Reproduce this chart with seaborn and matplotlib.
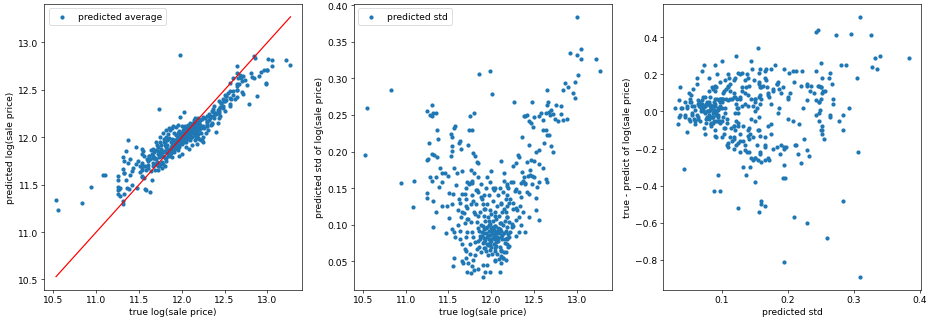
import matplotlib
matplotlib.use("Agg")
import matplotlib.pyplot as plt
import seaborn as sns
import numpy as np

# ---- data (true value, predicted mean, predicted std) ----
true_logprice = [
    10.53, 10.55, 10.83, 10.94, 11.08, 11.10,
    11.25, 11.25, 11.25, 11.25, 11.26, 11.27, 11.28, 11.28, 11.31, 11.31, 11.31, 11.31, 11.32, 11.32,
    11.32, 11.33, 11.35, 11.35, 11.36, 11.37, 11.37, 11.38, 11.39, 11.40, 11.42, 11.42, 11.43,
    11.46, 11.47, 11.48, 11.49, 11.51, 11.51, 11.53, 11.53, 11.54, 11.54, 11.54, 11.54, 11.54, 11.55,
    11.55, 11.56, 11.56, 11.57, 11.57, 11.58, 11.58, 11.59, 11.60, 11.61, 11.61, 11.62, 11.63, 11.63,
    11.64, 11.64, 11.65, 11.65, 11.66, 11.66, 11.66, 11.67,
    11.74, 11.75, 11.80, 11.78, 11.73, 11.79, 11.81, 11.83, 11.84, 11.76,
    11.72, 11.75, 11.77, 11.69, 11.71, 11.72, 11.77, 11.79, 11.68, 11.73,
    11.69, 11.76, 11.72, 11.77, 11.79, 11.75, 11.69, 11.71, 11.75, 11.79,
    11.73, 11.80, 11.76, 11.72, 11.70, 11.81, 11.82, 11.83, 11.81, 11.83,
    11.81, 11.84, 11.83, 11.80, 11.86, 11.98,
    11.86, 11.86, 11.87, 11.87, 11.88, 11.88, 11.88, 11.89, 11.89, 11.90,
    11.90, 11.90, 11.90, 11.91, 11.91, 11.91, 11.92, 11.92, 11.92, 11.93,
    11.93, 11.93, 11.94, 11.94, 11.94, 11.95, 11.95, 11.95, 11.96, 11.96,
    11.96, 11.97, 11.97, 11.97, 11.98, 11.98, 11.98, 11.99, 11.99, 11.99,
    12.00, 12.00, 12.00, 12.00, 12.01, 12.01, 12.01, 12.02, 12.02, 12.02,
    12.03, 12.03, 12.03, 12.04, 12.04, 12.04, 12.05, 12.05, 12.05, 12.06,
    12.06, 12.06, 12.07, 12.07, 12.07, 12.08, 12.08, 12.08, 12.09, 12.09,
    12.09, 12.10, 12.10, 12.10, 12.11, 12.11, 12.11, 12.12, 12.12, 12.12,
    12.13, 12.13, 12.14, 12.14, 12.14, 12.15, 12.15, 12.15, 12.16, 12.16,
    12.17, 12.17, 12.18, 12.18, 12.18, 12.19, 12.19, 12.20, 12.20,
    12.10, 12.05, 12.12, 12.15, 12.20, 12.18, 12.22, 12.24, 12.25, 12.19, 12.08, 12.00, 11.97, 12.40,
    12.27, 12.36, 12.44, 12.46, 12.31, 12.33, 12.29, 12.25, 12.19, 12.23,
    12.25, 12.29, 12.32, 12.35, 12.37, 12.40, 12.43, 12.45, 12.44, 12.42,
    12.25, 12.21, 12.17, 12.29, 12.34, 12.37, 12.21, 12.29, 12.24, 12.33,
    12.35, 12.39, 12.44, 12.19, 12.29, 12.21, 12.17, 12.17, 12.14, 12.21,
    12.46, 12.40, 12.42, 12.38, 12.44, 12.48,
    12.49, 12.50, 12.56, 12.58, 12.60, 12.64, 12.65, 12.66, 12.65, 12.67,
    12.69, 12.70, 12.72, 12.74, 12.76, 12.78, 12.60, 12.65, 12.68, 12.70,
    12.72, 12.64, 12.62, 12.56, 12.52, 12.50, 12.56, 12.60, 12.54, 12.56,
    12.48, 12.64, 12.65, 12.48, 12.52, 12.52, 12.56,
    13.00, 12.92, 13.05, 13.00, 13.05, 13.01, 13.22, 13.27, 12.98, 12.96,
    12.98, 12.84, 12.86, 12.90, 12.84, 12.88, 12.81, 12.82,
    11.62, 11.66, 11.70, 11.74, 11.78, 11.82, 11.85, 11.88, 11.90, 11.93,
    11.76, 11.80, 11.84, 11.70, 11.66, 11.95, 11.98, 12.02, 11.72, 11.85,
    12.05, 12.12, 12.18, 12.22, 12.28, 12.30, 12.35, 12.38, 12.32, 12.26,
    12.15, 12.45, 12.50, 12.42, 12.36,
    11.84, 11.87, 11.89, 11.92, 11.94, 11.96, 11.97, 12.00, 12.01, 12.03,
    12.04, 12.06, 12.08, 12.09, 12.10, 12.13, 12.16, 12.05, 11.99, 11.93,
    11.91, 11.95, 12.02, 12.07, 12.11,
    11.85, 11.95, 12.05, 11.78, 12.12, 11.70,
]

pred_avg = [
    11.34, 11.23, 11.31, 11.48, 11.60, 11.60,
    11.40, 11.48, 11.55, 11.59, 11.44, 11.45, 11.38, 11.47, 11.33, 11.30, 11.67, 11.79, 11.40, 11.62,
    11.75, 11.62, 11.86, 11.55, 11.46, 11.97, 11.73, 11.45, 11.77, 11.60, 11.64, 11.50, 11.68,
    11.72, 11.90, 11.46, 11.75, 11.63, 11.70, 11.68, 11.73, 11.59, 11.82, 11.58, 11.66, 11.88, 11.70,
    11.86, 11.80, 11.57, 11.70, 11.45, 11.44, 11.66, 11.77, 11.68, 11.75, 11.71, 11.80, 11.42, 11.77,
    11.87, 11.64, 11.55, 11.82, 11.73, 11.78, 11.70, 11.78,
    11.95, 11.80, 11.92, 11.72, 12.30, 11.98, 12.00, 11.84, 12.03, 11.72,
    11.85, 11.85, 11.80, 11.78, 11.92, 11.70, 11.68, 11.95, 11.84, 11.79,
    11.72, 11.88, 11.82, 11.74, 11.86, 11.72, 11.66, 11.74, 11.80, 11.84,
    11.70, 11.78, 11.83, 11.66, 11.77, 11.90, 11.75, 11.92, 11.85, 11.88,
    11.78, 11.82, 11.97, 11.70, 12.08, 12.87,
    11.88, 11.80, 11.95, 11.83, 11.98, 11.86, 11.90, 11.92, 11.79, 11.87,
    11.95, 11.93, 11.88, 11.84, 11.91, 12.04, 11.90, 11.97, 11.88, 11.93,
    12.02, 11.95, 11.89, 11.94, 11.98, 11.93, 12.01, 11.87, 11.96, 11.90,
    12.00, 11.97, 12.07, 11.92, 12.03, 11.95, 11.99, 12.00, 11.94, 12.02,
    12.05, 12.12, 11.97, 11.93, 12.01, 12.06, 12.08, 11.99, 12.10, 12.03,
    11.96, 12.04, 12.00, 12.07, 12.00, 12.12, 12.02, 12.09, 11.98, 12.05,
    12.10, 11.99, 12.04, 12.13, 12.06, 12.02, 12.11, 12.05, 12.08, 11.98,
    12.04, 12.12, 12.06, 12.15, 12.04, 12.09, 12.00, 12.10, 12.13, 12.07,
    12.05, 12.15, 12.09, 12.18, 12.11, 12.06, 12.12, 12.20, 12.08, 12.14,
    12.04, 12.13, 12.10, 12.16, 12.05, 12.12, 12.20, 12.08, 12.15,
    11.97, 11.95, 12.00, 11.97, 11.98, 11.93, 11.97, 11.97, 11.95, 11.99, 11.88, 11.82, 11.80, 12.06,
    12.20, 12.22, 12.28, 12.36, 12.08, 12.20, 12.14, 12.00, 12.03, 12.10,
    12.21, 12.12, 12.25, 12.14, 12.30, 12.25, 12.20, 12.32, 12.30, 12.15,
    12.12, 12.18, 12.00, 12.22, 12.13, 12.27, 12.10, 12.17, 12.19, 12.22,
    12.28, 12.25, 12.26, 12.08, 12.16, 12.13, 12.02, 12.10, 12.05, 12.18,
    12.36, 12.26, 12.29, 12.33, 12.38, 12.33,
    12.38, 12.45, 12.57, 12.40, 12.62, 12.54, 12.75, 12.62, 12.68, 12.56,
    12.62, 12.59, 12.46, 12.60, 12.55, 12.35, 12.45, 12.43, 12.66, 12.48,
    12.65, 12.50, 12.40, 12.35, 12.44, 12.38, 12.41, 12.49, 12.47, 12.33,
    12.31, 12.50, 12.56, 12.40, 12.39, 12.44, 12.49,
    12.71, 12.69, 12.75, 12.71, 12.81, 12.83, 12.81, 12.76, 12.56, 12.71,
    12.57, 12.86, 12.84, 12.65, 12.62, 12.44, 12.68, 12.64,
    11.80, 11.88, 11.95, 12.00, 12.05, 12.08, 12.10, 12.10, 12.12, 12.11,
    11.92, 11.95, 11.98, 11.87, 11.80, 12.13, 12.21, 12.27, 11.90, 11.99,
    11.90, 11.92, 12.00, 12.05, 12.05, 12.12, 12.15, 12.20, 12.18, 12.10,
    12.02, 12.22, 12.28, 12.26, 12.28,
    11.80, 11.90, 11.85, 11.95, 11.93, 12.02, 11.90, 12.00, 12.06, 12.00,
    12.10, 12.02, 12.07, 12.12, 12.00, 12.10, 12.12, 12.05, 11.97, 11.89,
    11.97, 12.04, 11.95, 12.12, 12.05,
    11.83, 11.90, 12.00, 11.80, 12.10, 11.72,
]

pred_std = [
    0.195, 0.260, 0.284, 0.157, 0.124, 0.160,
    0.255, 0.188, 0.143, 0.136, 0.190, 0.211, 0.250, 0.165, 0.264, 0.249, 0.196, 0.160, 0.252, 0.132,
    0.097, 0.195, 0.165, 0.118, 0.252, 0.229, 0.193, 0.217, 0.151, 0.178, 0.158, 0.125, 0.170,
    0.171, 0.088, 0.125, 0.166, 0.143, 0.109, 0.224, 0.194, 0.208, 0.220, 0.201, 0.128, 0.094, 0.142,
    0.043, 0.232, 0.055, 0.090, 0.178, 0.235, 0.083, 0.154, 0.170, 0.100, 0.120, 0.212, 0.130, 0.092,
    0.215, 0.080, 0.204, 0.110, 0.174, 0.074, 0.050, 0.047,
    0.229, 0.248, 0.252, 0.229, 0.209, 0.198, 0.194, 0.185, 0.184, 0.175,
    0.158, 0.157, 0.157, 0.142, 0.135, 0.123, 0.140, 0.132, 0.116, 0.108,
    0.102, 0.104, 0.090, 0.090, 0.083, 0.074, 0.067, 0.064, 0.060, 0.052,
    0.048, 0.038, 0.034, 0.035, 0.083, 0.114, 0.128, 0.104, 0.076, 0.067,
    0.058, 0.095, 0.147, 0.170, 0.306, 0.310,
    0.092, 0.070, 0.118, 0.081, 0.155, 0.100, 0.062, 0.085, 0.135, 0.075,
    0.098, 0.045, 0.029, 0.112, 0.088, 0.140, 0.068, 0.094, 0.122, 0.079,
    0.105, 0.036, 0.089, 0.150, 0.064, 0.097, 0.083, 0.128, 0.072, 0.110,
    0.058, 0.091, 0.140, 0.080, 0.101, 0.066, 0.120, 0.086, 0.077, 0.035,
    0.095, 0.174, 0.070, 0.115, 0.088, 0.278, 0.060, 0.082, 0.132, 0.105,
    0.093, 0.074, 0.148, 0.087, 0.064, 0.118, 0.098, 0.080, 0.150, 0.071,
    0.108, 0.090, 0.083, 0.125, 0.060, 0.096, 0.078, 0.140, 0.088, 0.112,
    0.053, 0.094, 0.070, 0.150, 0.102, 0.083, 0.130, 0.187, 0.091, 0.065,
    0.118, 0.080, 0.100, 0.145, 0.055, 0.170, 0.088, 0.122, 0.075, 0.105,
    0.092, 0.135, 0.082, 0.153, 0.110, 0.097, 0.125, 0.087, 0.150,
    0.036, 0.050, 0.057, 0.062, 0.070, 0.073, 0.090, 0.101, 0.122, 0.110, 0.093, 0.080, 0.105, 0.155,
    0.268, 0.220, 0.209, 0.189, 0.195, 0.192, 0.184, 0.180, 0.156, 0.158,
    0.158, 0.149, 0.144, 0.157, 0.160, 0.157, 0.167, 0.168, 0.142, 0.144,
    0.130, 0.130, 0.118, 0.123, 0.125, 0.118, 0.104, 0.107, 0.097, 0.090,
    0.100, 0.090, 0.111, 0.080, 0.085, 0.071, 0.062, 0.052, 0.054, 0.083,
    0.239, 0.248, 0.250, 0.248, 0.242, 0.267,
    0.234, 0.247, 0.248, 0.252, 0.243, 0.252, 0.284, 0.268, 0.264, 0.254,
    0.250, 0.257, 0.251, 0.245, 0.264, 0.242, 0.229, 0.222, 0.223, 0.208,
    0.200, 0.229, 0.212, 0.202, 0.200, 0.187, 0.183, 0.177, 0.151, 0.158,
    0.167, 0.163, 0.158, 0.156, 0.137, 0.120, 0.107,
    0.384, 0.335, 0.340, 0.332, 0.327, 0.305, 0.326, 0.310, 0.295, 0.280,
    0.273, 0.284, 0.293, 0.288, 0.243, 0.245, 0.251, 0.262,
    0.135, 0.142, 0.150, 0.155, 0.160, 0.148, 0.145, 0.138, 0.128, 0.122,
    0.128, 0.118, 0.112, 0.125, 0.118, 0.165, 0.158, 0.150, 0.108, 0.165,
    0.112, 0.128, 0.140, 0.135, 0.146, 0.120, 0.138, 0.165, 0.110, 0.098,
    0.160, 0.175, 0.165, 0.185, 0.172,
    0.078, 0.085, 0.090, 0.082, 0.095, 0.086, 0.100, 0.078, 0.092, 0.085,
    0.098, 0.076, 0.082, 0.094, 0.102, 0.086, 0.080, 0.068, 0.072, 0.068,
    0.076, 0.073, 0.097, 0.088, 0.064,
    0.040, 0.045, 0.052, 0.044, 0.048, 0.055,
]

assert len(true_logprice) == len(pred_avg) == len(pred_std), (len(true_logprice), len(pred_avg), len(pred_std))

true_arr = np.array(true_logprice)
pred_arr = np.array(pred_avg)
std_arr = np.array(pred_std)
resid = true_arr - pred_arr

BLUE = "#1f77b4"
plt.rcParams["font.family"] = ["DejaVu Sans"]
plt.rcParams["font.size"] = 11.3

fig, axes = plt.subplots(1, 3, figsize=(16, 5.58), dpi=58.0625)
fig.subplots_adjust(left=0.0477, right=0.9914, top=0.985, bottom=0.103, wspace=0.2)

ms = 27
ax = axes[0]
sns.scatterplot(x=true_arr, y=pred_arr, ax=ax, color=BLUE, s=ms, linewidth=0,
                label="predicted average")
lo, hi = true_arr.min(), true_arr.max()
ax.plot([lo, hi], [lo, hi], color="red", lw=1.5)
ax.set_xlabel("true log(sale price)")
ax.set_ylabel("predicted log(sale price)")
ax.legend(loc="upper left")

ax = axes[1]
sns.scatterplot(x=true_arr, y=std_arr, ax=ax, color=BLUE, s=ms, linewidth=0,
                label="predicted std")
ax.set_xlabel("true log(sale price)")
ax.set_ylabel("predicted std of log(sale price)")
ax.legend(loc="upper left")

ax = axes[2]
sns.scatterplot(x=std_arr, y=resid, ax=ax, color=BLUE, s=ms, linewidth=0)
ax.set_xlabel("predicted std")
ax.set_ylabel("true - predict of log(sale price)")
ax.set_xticks([0.1, 0.2, 0.3, 0.4])

fig.savefig("out.png", dpi=58.0625)
